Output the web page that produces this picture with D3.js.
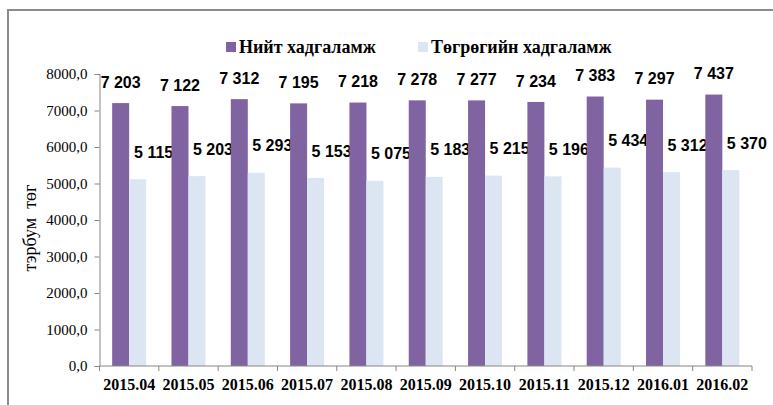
<!DOCTYPE html>
<html><head><meta charset="utf-8">
<script src="https://cdn.jsdelivr.net/npm/d3@7"></script>
<style>body{margin:0;background:#fff}</style>
</head><body>
<script>
const categories = ["2015.04","2015.05","2015.06","2015.07","2015.08","2015.09","2015.10","2015.11","2015.12","2016.01","2016.02"];
const totalDeposits = [7203,7122,7312,7195,7218,7278,7277,7234,7383,7297,7437];
const mntDeposits = [5115,5203,5293,5153,5075,5183,5215,5196,5434,5312,5370];
const seriesNames = ["Нийт хадгаламж","Төгрөгийн хадгаламж"];
const yTicks = [0,1000,2000,3000,4000,5000,6000,7000,8000];
const yTitle = "тэрбум  төг";

const W=773,H=405;
const svg=d3.select("body").append("svg").attr("width",W).attr("height",H);
const colors=["#8064A2","#DCE6F2"];
const SERIF="'Liberation Serif','Times New Roman','DejaVu Serif',serif";
const SANS="'Liberation Sans',Arial,sans-serif";

svg.append("rect").attr("x",8).attr("y",10).attr("width",W+10).attr("height",H+10)
  .attr("fill","none").attr("stroke","#8c8c8c").attr("stroke-width",2);

const m={l:99.5,r:752,t:74,b:366};
const x=d3.scaleBand().domain(categories).range([m.l,m.r]).paddingInner(0).paddingOuter(0);
const y=d3.scaleLinear().domain([0,8000]).range([m.b,m.t]);
const bw=17;
const fmt=v=>{const s=String(v);return s.length>3?s.slice(0,s.length-3)+" "+s.slice(-3):s;};
const ytf=v=>d3.format(".1f")(v).replace(".",",");

// bars
const g=svg.append("g");
categories.forEach((c,i)=>{
  const cx=x(c)+x.bandwidth()/2;
  g.append("rect").attr("x",cx-bw).attr("y",y(totalDeposits[i])).attr("width",bw)
    .attr("height",y(0)-y(totalDeposits[i])).attr("fill",colors[0]);
  g.append("rect").attr("x",cx).attr("y",y(mntDeposits[i])).attr("width",bw)
    .attr("height",y(0)-y(mntDeposits[i])).attr("fill",colors[1]);
  g.append("text").attr("x",cx-bw/2).attr("y",y(totalDeposits[i])-21).attr("dy","0.35em")
    .attr("text-anchor","middle").style("font-family",SANS)
    .attr("font-weight","bold").attr("font-size",16).text(fmt(totalDeposits[i]));
  g.append("text").attr("x",cx+bw/2+16).attr("y",y(mntDeposits[i])-27).attr("dy","0.35em")
    .attr("text-anchor","middle").style("font-family",SANS)
    .attr("font-weight","bold").attr("font-size",16).text(fmt(mntDeposits[i]));
});

// y axis
const ya=svg.append("g").attr("transform",`translate(${m.l},0)`)
  .call(d3.axisLeft(y).tickValues(yTicks).tickFormat(ytf).tickSize(5).tickPadding(7));
ya.attr("font-family",null);
ya.selectAll("path,line").attr("stroke","#868686");
ya.selectAll("text").style("font-family",SERIF).attr("font-size",15).attr("fill","#000");

// x axis
const xa=svg.append("g").attr("transform",`translate(0,${m.b})`)
  .call(d3.axisBottom(x).tickSize(0).tickPadding(13));
xa.attr("font-family",null);
xa.select("path").attr("stroke","#868686").attr("d",`M${m.l},0H${m.r}`);
xa.selectAll("text").style("font-family",SERIF).attr("font-weight","bold").attr("font-size",16).attr("fill","#000");
const bounds=categories.map(c=>x(c)).concat([m.r]);
xa.selectAll(".bnd").data(bounds).enter().append("line").attr("class","bnd")
  .attr("x1",d=>d).attr("x2",d=>d).attr("y1",0).attr("y2",5).attr("stroke","#868686");

// y title
svg.append("text").attr("transform",`translate(30,228) rotate(-90)`).attr("text-anchor","middle")
  .attr("dy","0.35em").style("font-family",SERIF).attr("font-size",18)
  .style("white-space","pre").text(yTitle);

// legend
const legX=[226,418];
seriesNames.forEach((n,i)=>{
  svg.append("rect").attr("x",legX[i]).attr("y",42).attr("width",10).attr("height",10).attr("fill",colors[i]);
  svg.append("text").attr("x",legX[i]+13).attr("y",47).attr("dy","0.35em")
    .style("font-family",SERIF).attr("font-weight","bold").attr("font-size",18).text(n);
});
</script>
</body></html>
